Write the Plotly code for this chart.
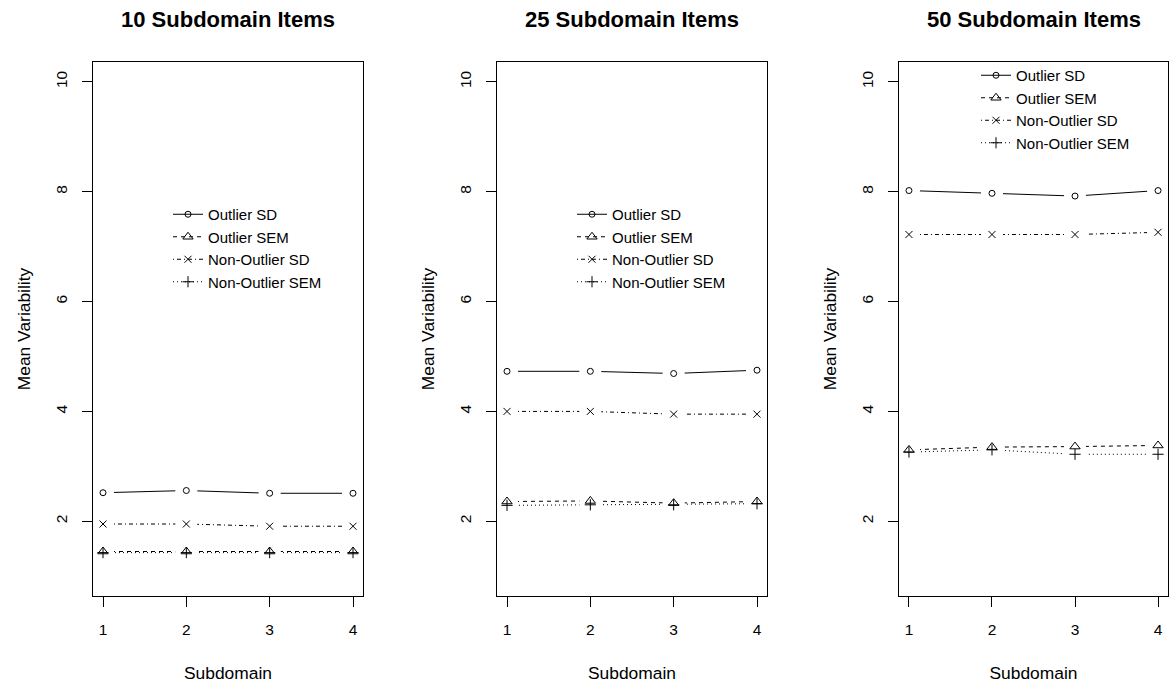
import plotly.graph_objects as go

W, H = 1171, 685

subdomains = [1, 2, 3, 4]
panel_titles = ["10 Subdomain Items", "25 Subdomain Items", "50 Subdomain Items"]
series_names = ["Outlier SD", "Outlier SEM", "Non-Outlier SD", "Non-Outlier SEM"]

# panel 1: 10 subdomain items
p10_outlier_sd = [2.52, 2.56, 2.51, 2.51]
p10_outlier_sem = [1.45, 1.45, 1.45, 1.45]
p10_nonoutlier_sd = [1.95, 1.95, 1.91, 1.91]
p10_nonoutlier_sem = [1.43, 1.43, 1.43, 1.43]

# panel 2: 25 subdomain items
p25_outlier_sd = [4.73, 4.73, 4.69, 4.75]
p25_outlier_sem = [2.36, 2.37, 2.33, 2.36]
p25_nonoutlier_sd = [4.00, 4.00, 3.95, 3.95]
p25_nonoutlier_sem = [2.29, 2.30, 2.30, 2.32]

# panel 3: 50 subdomain items
p50_outlier_sd = [8.02, 7.97, 7.92, 8.02]
p50_outlier_sem = [3.30, 3.35, 3.36, 3.38]
p50_nonoutlier_sd = [7.22, 7.22, 7.22, 7.26]
p50_nonoutlier_sem = [3.26, 3.30, 3.22, 3.22]

panels = [
    [p10_outlier_sd, p10_outlier_sem, p10_nonoutlier_sd, p10_nonoutlier_sem],
    [p25_outlier_sd, p25_outlier_sem, p25_nonoutlier_sd, p25_nonoutlier_sem],
    [p50_outlier_sd, p50_outlier_sem, p50_nonoutlier_sd, p50_nonoutlier_sem],
]

y_ticks = [2, 4, 6, 8, 10]

# styles
dashes = ["solid", "4px,4px", "1px,3px,4px,3px", "1px,3px"]
symbols = ["circle-open", "triangle-up-open", "x-thin-open", "cross-thin-open"]
msizes = [6, 9, 7, 8]

FONT = "Liberation Sans, Arial, sans-serif"

# pixel layout of the three plot frames
frames_px = [(93, 363), (497, 767), (899, 1168)]
top_px, bot_px = 62, 596
legend_px = [(168, 198), (572, 198), (976, 59)]

fig = go.Figure()

for p, data in enumerate(panels):
    ax = "" if p == 0 else str(p + 1)
    xref, yref = "x" + ax, "y" + ax
    leg = "legend" if p == 0 else "legend" + str(p + 1)
    # lines (with markers, used for the legend)
    for s, vals in enumerate(data):
        fig.add_trace(go.Scatter(
            x=subdomains, y=vals, mode="lines+markers", name=series_names[s],
            xaxis=xref, yaxis=yref, legend=leg, legendgroup=f"p{p}s{s}",
            line=dict(color="black", width=1, dash=dashes[s]),
            marker=dict(symbol=symbols[s], size=msizes[s], color="black",
                        line=dict(width=1, color="black")),
            showlegend=True, hoverinfo="skip"))
    # white halos to break lines around points (R type="b")
    for s, vals in enumerate(data):
        fig.add_trace(go.Scatter(
            x=subdomains, y=vals, mode="markers", xaxis=xref, yaxis=yref,
            marker=dict(symbol="circle", size=22, color="white",
                        line=dict(width=0)),
            showlegend=False, hoverinfo="skip"))
    # markers on top
    for s, vals in enumerate(data):
        fig.add_trace(go.Scatter(
            x=subdomains, y=vals, mode="markers", xaxis=xref, yaxis=yref,
            marker=dict(symbol=symbols[s], size=msizes[s], color="black",
                        line=dict(width=1, color="black")),
            showlegend=False, hoverinfo="skip"))

layout = dict(
    width=W, height=H,
    margin=dict(l=0, r=0, t=0, b=0),
    paper_bgcolor="white", plot_bgcolor="white",
    font=dict(family=FONT, size=15, color="black"),
    showlegend=True,
)

annotations = []
for p, (x0, x1) in enumerate(frames_px):
    ax = "" if p == 0 else str(p + 1)
    dom_x = [x0 / W, x1 / W]
    dom_y = [1 - bot_px / H, 1 - top_px / H]
    layout["xaxis" + ax] = dict(
        domain=dom_x, range=[0.88, 4.12], tickvals=subdomains,
        ticktext=[str(v) for v in subdomains],
        ticks="outside", ticklen=10, tickwidth=1, tickcolor="black",
        ticklabelstandoff=9,
        showline=True, mirror=True, linecolor="black", linewidth=1,
        showgrid=False, zeroline=False, fixedrange=True,
        tickfont=dict(size=15.5),
        title=dict(text="Subdomain", font=dict(size=17.4), standoff=30),
        anchor="y" + ax,
    )
    layout["yaxis" + ax] = dict(
        domain=dom_y, range=[0.64, 10.36], tickvals=y_ticks,
        ticks="outside", ticklen=10, tickwidth=1, tickcolor="black",
        tickangle=-90, ticklabelstandoff=9,
        showline=True, mirror=True, linecolor="black", linewidth=1,
        showgrid=False, zeroline=False, fixedrange=True,
        tickfont=dict(size=15.5),
        title=dict(text="Mean Variability", font=dict(size=17.4), standoff=17),
        anchor="x" + ax,
    )
    annotations.append(dict(
        text="<b>" + panel_titles[p] + "</b>", xref="paper", yref="paper",
        x=(x0 + x1) / 2 / W, y=1 - 19.5 / H, xanchor="center", yanchor="middle",
        showarrow=False, font=dict(size=22, family=FONT, color="black")))
    lx, ly = legend_px[p]
    layout["legend" if p == 0 else "legend" + str(p + 1)] = dict(
        x=lx / W, y=1 - ly / H, xanchor="left", yanchor="top",
        bgcolor="rgba(0,0,0,0)", borderwidth=0,
        font=dict(size=15, family=FONT, color="black"),
        tracegroupgap=0, itemclick=False, itemdoubleclick=False,
    )

layout["annotations"] = annotations
fig.update_layout(**layout)

fig.write_html("out.html")
